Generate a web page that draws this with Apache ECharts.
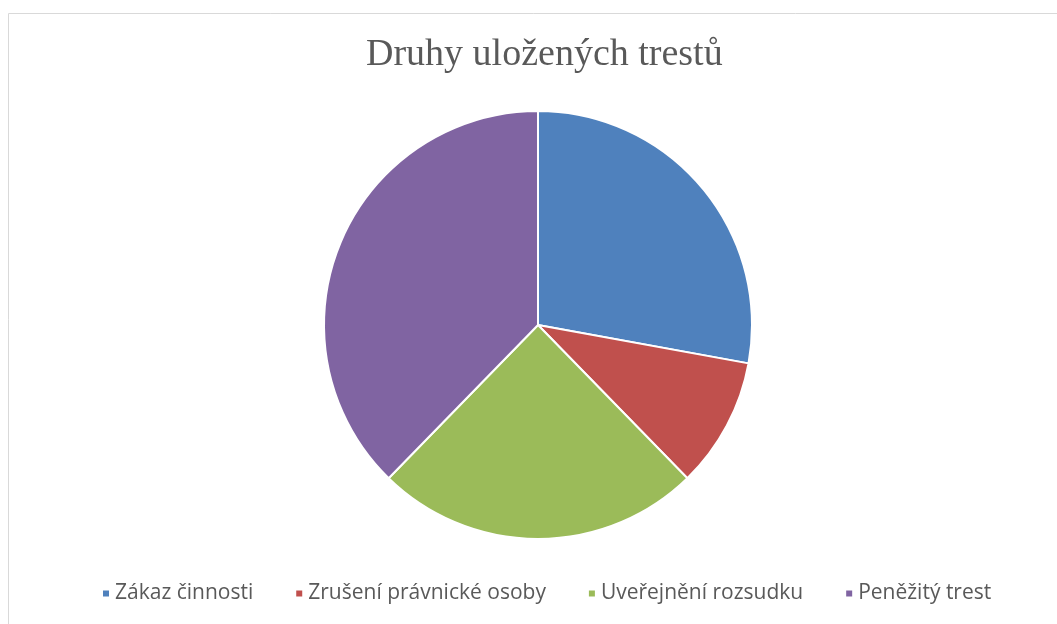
<!DOCTYPE html>
<html>
<head>
<meta charset="utf-8">
<title>Druhy uložených trestů</title>
<script src="https://cdn.jsdelivr.net/npm/echarts@6/dist/echarts.min.js"></script>
<style>
  html, body { margin: 0; padding: 0; background: #fff; }
  #main { width: 1057px; height: 624px; }
</style>
</head>
<body>
<div id="main"></div>
<script>
// kategorie a hodnoty
var categories = ['Zákaz činnosti', 'Zrušení právnické osoby', 'Uveřejnění rozsudku', 'Peněžitý trest'];
var values = [17, 6, 15, 23];
var colors = ['#4f81bd', '#c0504d', '#9bbb59', '#8064a2'];

var chart = echarts.init(document.getElementById('main'));

var pieData = [];
for (var i = 0; i < categories.length; i++) {
  pieData.push({ name: categories[i], value: values[i], itemStyle: { color: colors[i] } });
}

chart.setOption({
  animation: false,
  title: {
    text: 'Druhy uložených trestů',
    left: 361,
    top: 31,
    textStyle: {
      fontFamily: 'Liberation Serif',
      fontSize: 38,
      fontWeight: 'normal',
      color: '#595959'
    }
  },
  graphic: [{
    type: 'rect',
    shape: { x: 8.5, y: 13.5, width: 1100, height: 700 },
    style: { fill: null, stroke: '#d9d9d9', lineWidth: 1 },
    silent: true
  }],
  legend: {
    bottom: 15,
    left: 96,
    icon: 'rect',
    itemWidth: 8,
    itemHeight: 8,
    itemGap: 41,
    textStyle: {
      fontFamily: 'Open Sans',
      fontSize: 21,
      color: '#595959'
    },
    data: categories
  },
  series: [{
    type: 'pie',
    center: [538, 325],
    radius: 214,
    startAngle: 90,
    clockwise: true,
    label: { show: false },
    labelLine: { show: false },
    itemStyle: { borderColor: '#fff', borderWidth: 2 },
    data: pieData
  }]
});
</script>
</body>
</html>
